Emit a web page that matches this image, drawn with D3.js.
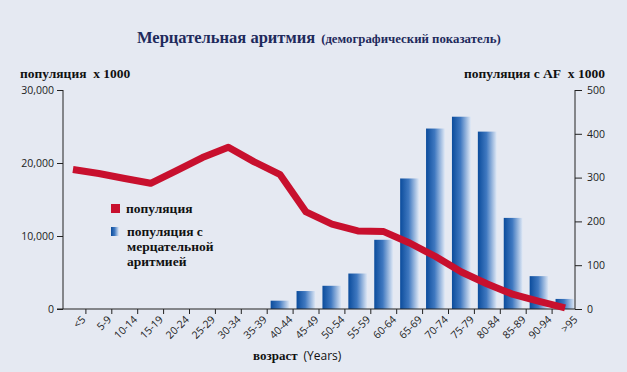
<!DOCTYPE html>
<html>
<head>
<meta charset="utf-8">
<script src="https://cdn.jsdelivr.net/npm/d3@7"></script>
<style>
  body { margin: 0; background: #e5e9f2; }
  svg { display: block; }
</style>
</head>
<body>
<svg width="627" height="372"></svg>
<script>
// age groups on the x axis
const ages = ["<5", "5-9", "10-14", "15-19", "20-24", "25-29", "30-34", "35-39", "40-44", "45-49",
  "50-54", "55-59", "60-64", "65-69", "70-74", "75-79", "80-84", "85-89", "90-94", ">95"];

// population x 1000 (left axis, red line)
const population = [19100, 18560, 17880, 17220, 18970, 20750, 22150, 20160, 18400, 13300,
  11630, 10700, 10600, 9040, 7190, 5070, 3420, 1990, 1030, 150];

// population with AF x 1000 (right axis, bars)
const populationAF = [0, 0, 0, 0, 0, 0, 0, 0, 19, 41,
  53, 81, 158, 298, 412, 439, 405, 208, 75, 23];

const leftTicks = [0, 10000, 20000, 30000];
const rightTicks = [0, 100, 200, 300, 400, 500];

const data = ages.map((a, i) => ({ age: a, pop: population[i], af: populationAF[i] }));

const svg = d3.select("svg");
const plotLeft = 63, plotRight = 575, plotTop = 90, plotBottom = 309;

// scales
const x = d3.scaleBand().domain(ages).range([60, 578]);
const yL = d3.scaleLinear().domain([0, 30000]).range([plotBottom, plotTop]);
const yR = d3.scaleLinear().domain([0, 500]).range([plotBottom, plotTop]);
const barW = 19;
const cx = (d) => x(d) + x.bandwidth() / 2;

// gradient for bars
const defs = svg.append("defs");
const grad = defs.append("linearGradient").attr("id", "barGrad")
  .attr("x1", "0%").attr("x2", "100%").attr("y1", "0%").attr("y2", "0%");
grad.append("stop").attr("offset", "0%").attr("stop-color", "#0b4c9c");
grad.append("stop").attr("offset", "45%").attr("stop-color", "#3f78c0");
grad.append("stop").attr("offset", "100%").attr("stop-color", "#e2eaf6");

const serif = "'Liberation Serif', 'DejaVu Serif', serif";
const sans = "'Open Sans', 'Liberation Sans', sans-serif";

// title
svg.append("text")
  .attr("x", 137).attr("y", 43)
  .attr("font-family", serif).attr("font-weight", "bold").attr("fill", "#1e2a5c")
  .call((t) => {
    t.append("tspan").attr("font-size", 16.5).text("Мерцательная аритмия");
    t.append("tspan").attr("font-size", 12.8).attr("dx", 6).text("(демографический показатель)");
  });

// axis titles
svg.append("text").attr("x", 20).attr("y", 78)
  .attr("font-family", serif).attr("font-weight", "bold").attr("font-size", 13.5).attr("fill", "#111")
  .text("популяция\u00a0\u00a0x 1000");
svg.append("text").attr("x", 605).attr("y", 78).attr("text-anchor", "end")
  .attr("font-family", serif).attr("font-weight", "bold").attr("font-size", 13.5).attr("fill", "#111")
  .text("популяция с AF\u00a0\u00a0x 1000");

// bars
svg.selectAll(".bar")
  .data(data.filter((d) => d.af > 0))
  .enter()
  .append("rect")
  .attr("class", "bar")
  .attr("x", (d) => cx(d.age) - barW / 2)
  .attr("width", barW)
  .attr("y", (d) => yR(d.af))
  .attr("height", (d) => yR(0) - yR(d.af))
  .attr("fill", "url(#barGrad)");

// axes
const axisColor = "#222";
const gL = svg.append("g").attr("transform", `translate(${plotLeft},0)`)
  .call(d3.axisLeft(yL).tickValues(leftTicks).tickSize(6).tickPadding(3).tickFormat(d3.format(",")));
const gR = svg.append("g").attr("transform", `translate(${plotRight},0)`)
  .call(d3.axisRight(yR).tickValues(rightTicks).tickSize(7).tickPadding(5));
[gL, gR].forEach((g) => {
  g.select(".domain").attr("stroke", axisColor).attr("d", `M0,${plotBottom}V${plotTop}`);
  g.selectAll(".tick line").attr("stroke", axisColor);
  g.selectAll(".tick text").attr("font-family", sans).attr("font-size", 10.5).attr("fill", "#222");
});

// x axis: baseline + ticks between bands
svg.append("line")
  .attr("x1", 57).attr("x2", plotRight).attr("y1", plotBottom).attr("y2", plotBottom)
  .attr("stroke", axisColor);
svg.selectAll(".xtick")
  .data(ages.slice(0, -1))
  .enter()
  .append("line")
  .attr("class", "xtick")
  .attr("x1", (d) => x(d) + x.step()).attr("x2", (d) => x(d) + x.step())
  .attr("y1", plotBottom).attr("y2", plotBottom + 5)
  .attr("stroke", axisColor);
svg.selectAll(".xlabel")
  .data(ages)
  .enter()
  .append("text")
  .attr("class", "xlabel")
  .attr("transform", (d) => `translate(${cx(d) + 8},${plotBottom + 6}) rotate(-45)`)
  .attr("text-anchor", "end")
  .attr("dy", "0.7em")
  .attr("font-family", sans).attr("font-size", 10.5).attr("fill", "#222")
  .text((d) => d);

// x axis title
svg.append("text").attr("x", 253).attr("y", 360)
  .attr("font-size", 13).attr("fill", "#111")
  .call((t) => {
    t.append("tspan").attr("font-family", serif).attr("font-weight", "bold").text("возраст");
    t.append("tspan").attr("font-family", sans).attr("font-size", 12).attr("dx", 6).text("(Years)");
  });

// population line
const line = d3.line()
  .x((d) => cx(d.age))
  .y((d) => yL(d.pop));
svg.append("path")
  .datum(data)
  .attr("d", line)
  .attr("fill", "none")
  .attr("stroke", "#c8102e")
  .attr("stroke-width", 7)
  .attr("stroke-linejoin", "round");

// legend
const legend = svg.append("g").attr("font-family", serif).attr("font-weight", "bold")
  .attr("font-size", 13.5).attr("fill", "#111");
legend.append("rect").attr("x", 111).attr("y", 204).attr("width", 9).attr("height", 9).attr("fill", "#c8102e");
legend.append("text").attr("x", 126).attr("y", 213).text("популяция");
legend.append("rect").attr("x", 111).attr("y", 227).attr("width", 8).attr("height", 9).attr("fill", "url(#barGrad)");
legend.append("text").attr("x", 127).attr("y", 236)
  .selectAll("tspan")
  .data(["популяция с", "мерцательной", "аритмией"])
  .enter()
  .append("tspan")
  .attr("x", 127)
  .attr("dy", (d, i) => (i === 0 ? 0 : 15))
  .text((d) => d);
</script>
</body>
</html>
